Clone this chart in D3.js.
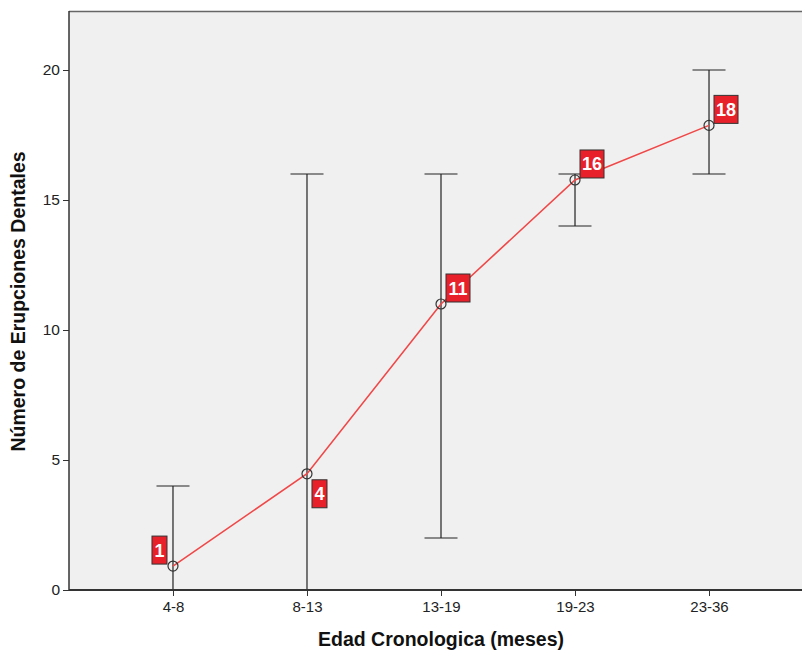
<!DOCTYPE html>
<html><head><meta charset="utf-8">
<script src="https://cdn.jsdelivr.net/npm/d3@7"></script>
<style>body{margin:0;background:#fff}svg{display:block}</style>
</head><body>
<script>
const categories = ["4-8","8-13","13-19","19-23","23-36"];
const means = [0.92, 4.47, 11.0, 15.77, 17.87];
const errLow = [0, 0, 2, 14, 16];
const errHigh = [4, 16, 16, 16, 20];
const labels = ["1","4","11","16","18"];
const labelPos = ["tl","br","tr","tr","tr"];
const yTicks = [0,5,10,15,20];

(function(){
const W = 802, H = 651;
const svg = d3.select("body").append("svg").attr("width", W).attr("height", H);
const mLeft = 69, mTop = 11, mBottom = 590, mRight = 813;

const x = d3.scaleLinear().domain([-0.776, categories.length - 1 + 0.776]).range([mLeft, mRight]);
const y = d3.scaleLinear().domain([0, (mBottom - mTop) / 26]).range([mBottom, mTop]);

svg.append("rect").attr("x", mLeft).attr("y", mTop).attr("width", mRight - mLeft).attr("height", mBottom - mTop)
  .attr("fill", "#f0f0f0");
svg.append("line").attr("x1", mLeft).attr("x2", W).attr("y1", mTop + 0.5).attr("y2", mTop + 0.5)
  .attr("stroke", "#666").attr("stroke-width", 1.5);

// error bars
const eb = svg.append("g").attr("stroke", "#222").attr("stroke-width", 1.2);
categories.forEach((c, i) => {
  const cx = x(i);
  eb.append("line").attr("x1", cx).attr("x2", cx).attr("y1", y(errLow[i])).attr("y2", y(errHigh[i]));
  [errLow[i], errHigh[i]].forEach(v => {
    eb.append("line").attr("x1", cx - 16.5).attr("x2", cx + 16.5).attr("y1", y(v)).attr("y2", y(v));
  });
});

// line
svg.append("path").datum(means)
  .attr("d", d3.line().x((d, i) => x(i)).y(d => y(d)))
  .attr("fill", "none").attr("stroke", "#f04848").attr("stroke-width", 1.6);

// markers
svg.append("g").selectAll("circle").data(means).join("circle")
  .attr("cx", (d, i) => x(i)).attr("cy", d => y(d)).attr("r", 5)
  .attr("fill", "none").attr("stroke", "#333").attr("stroke-width", 1.2);

// axes
const yAxis = d3.axisLeft(y).tickValues(yTicks).tickSize(6).tickPadding(3);
const gy = svg.append("g").attr("transform", `translate(${mLeft},0)`).call(yAxis);
gy.select(".domain").attr("stroke", "#333").attr("stroke-width", 1.5).attr("d", `M0,${mTop}V${mBottom}`);
gy.selectAll(".tick line").attr("stroke", "#333");
gy.selectAll(".tick text").attr("font-family", "Liberation Sans, Arial, sans-serif").attr("font-size", 15.5).attr("fill", "#222");

const xAxis = d3.axisBottom(x).tickValues(d3.range(categories.length)).tickFormat(i => categories[i]).tickSize(6).tickPadding(5);
const gx = svg.append("g").attr("transform", `translate(0,${mBottom})`).call(xAxis);
gx.select(".domain").attr("stroke", "#333").attr("stroke-width", 1.8).attr("d", `M${mLeft},0H${W}`);
gx.selectAll(".tick line").attr("stroke", "#333");
gx.selectAll(".tick text").attr("font-family", "Liberation Sans, Arial, sans-serif").attr("font-size", 15).attr("fill", "#222");

// data labels
const lg = svg.append("g");
means.forEach((m, i) => {
  const px = x(i), py = y(m);
  const bw = labels[i].length > 1 ? 24 : 15, bh = 28;
  const pos = labelPos[i];
  const bx = pos.includes("l") ? px - 6 - bw : px + 5;
  const by = pos.includes("t") ? py - 2 - bh : py + 6;
  lg.append("rect").attr("x", bx).attr("y", by).attr("width", bw).attr("height", bh)
    .attr("fill", "#e8202a").attr("stroke", "#333").attr("stroke-width", 1);
  lg.append("text").text(labels[i])
    .attr("font-family", "Liberation Sans Narrow, Arial Narrow, Liberation Sans, sans-serif")
    .attr("font-weight", "bold").attr("font-size", 18).attr("fill", "#fff")
    .attr("x", bx + bw / 2).attr("y", by + bh / 2 + 6.5).attr("text-anchor", "middle");
});

// titles
svg.append("text").attr("x", 441).attr("y", 646).attr("text-anchor", "middle")
  .attr("font-family", "Liberation Sans, Arial, sans-serif").attr("font-weight", "bold").attr("font-size", 19.5)
  .attr("fill", "#111").text("Edad Cronologica (meses)");
svg.append("text").attr("transform", "translate(25,301.5) rotate(-90)").attr("text-anchor", "middle")
  .attr("font-family", "Liberation Sans, Arial, sans-serif").attr("font-weight", "bold").attr("font-size", 19.5)
  .attr("fill", "#111").text("Número de Erupciones Dentales");
})();
</script>
</body></html>
